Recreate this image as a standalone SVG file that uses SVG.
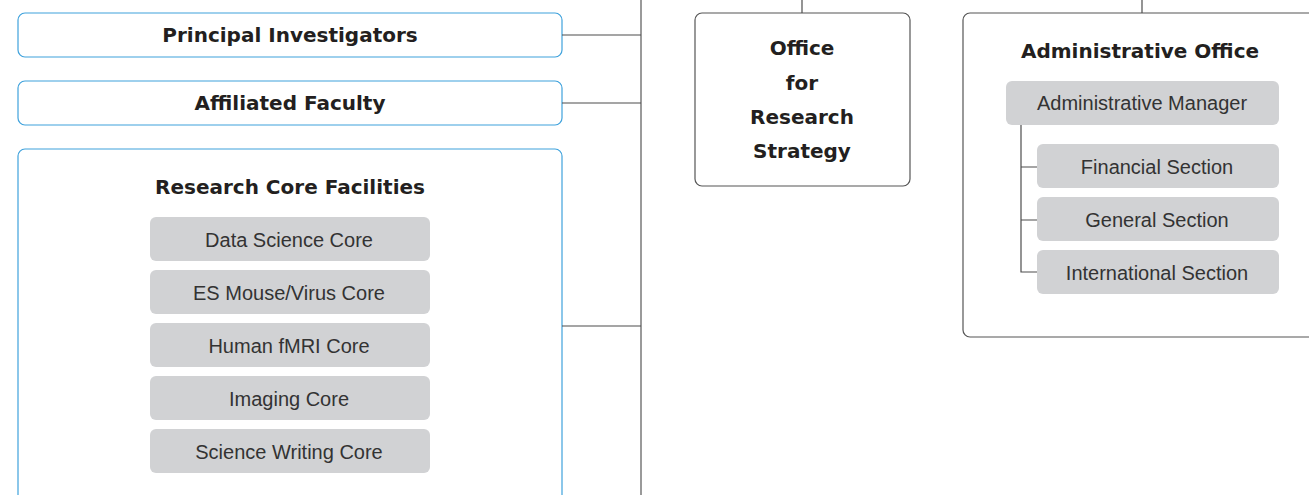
<svg xmlns="http://www.w3.org/2000/svg" width="1309" height="495" viewBox="0 0 1309 495">
  <style>
    .blue { fill: #ffffff; stroke: #3fa2dc; stroke-width: 1.2; }
    .dark { fill: #ffffff; stroke: #555555; stroke-width: 1.2; }
    .unit { fill: #d1d2d4; }
    .head { font-family: "DejaVu Sans", "Liberation Sans", sans-serif; font-weight: bold; font-size: 20px; fill: #231f20; text-anchor: middle; dominant-baseline: central; }
    .item { font-family: "Liberation Sans", Arial, sans-serif; font-size: 20px; fill: #333333; text-anchor: middle; dominant-baseline: central; }
    .link { stroke: #4d4d4d; stroke-width: 1.2; fill: none; }
    .trunk { stroke: #9a9a9a; stroke-width: 2; fill: none; }
  </style>
  <rect width="1309" height="495" fill="#ffffff"/>

  <g id="principal-investigators">
    <rect class="blue" x="18" y="13" width="544" height="44" rx="7"/>
    <text class="head" x="290" y="35">Principal Investigators</text>
  </g>

  <g id="affiliated-faculty">
    <rect class="blue" x="18" y="81" width="544" height="44" rx="7"/>
    <text class="head" x="290" y="103">Affiliated Faculty</text>
  </g>

  <g id="research-core-facilities">
    <rect class="blue" x="18" y="149" width="544" height="360" rx="7"/>
    <text class="head" x="290" y="187">Research Core Facilities</text>
    <g id="data-science-core">
      <rect class="unit" x="150" y="217" width="280" height="44" rx="6"/>
      <text class="item" x="289" y="240">Data Science Core</text>
    </g>
    <g id="es-mouse-virus-core">
      <rect class="unit" x="150" y="270" width="280" height="44" rx="6"/>
      <text class="item" x="289" y="293">ES Mouse/Virus Core</text>
    </g>
    <g id="human-fmri-core">
      <rect class="unit" x="150" y="323" width="280" height="44" rx="6"/>
      <text class="item" x="289" y="346">Human fMRI Core</text>
    </g>
    <g id="imaging-core">
      <rect class="unit" x="150" y="376" width="280" height="44" rx="6"/>
      <text class="item" x="289" y="399">Imaging Core</text>
    </g>
    <g id="science-writing-core">
      <rect class="unit" x="150" y="429" width="280" height="44" rx="6"/>
      <text class="item" x="289" y="452">Science Writing Core</text>
    </g>
  </g>

  <g id="office-for-research-strategy">
    <rect class="dark" x="695" y="13" width="215" height="173" rx="7"/>
    <text class="head" x="802" y="48">Office</text>
    <text class="head" x="802" y="83">for</text>
    <text class="head" x="802" y="117">Research</text>
    <text class="head" x="802" y="151">Strategy</text>
  </g>

  <g id="administrative-office">
    <rect class="dark" x="963" y="13" width="360" height="324" rx="7"/>
    <text class="head" x="1140" y="51">Administrative Office</text>
    <g id="administrative-manager">
      <rect class="unit" x="1006" y="81" width="273" height="44" rx="6"/>
      <text class="item" x="1142" y="103">Administrative Manager</text>
    </g>
    <g id="financial-section">
      <rect class="unit" x="1037" y="144" width="242" height="44" rx="6"/>
      <text class="item" x="1157" y="167">Financial Section</text>
    </g>
    <g id="general-section">
      <rect class="unit" x="1037" y="197" width="242" height="44" rx="6"/>
      <text class="item" x="1157" y="220">General Section</text>
    </g>
    <g id="international-section">
      <rect class="unit" x="1037" y="250" width="242" height="44" rx="6"/>
      <text class="item" x="1157" y="273">International Section</text>
    </g>
  </g>

  <!-- connectors drawn last so box fills do not hide them -->
  <g id="connectors">
    <line class="trunk" x1="641" y1="0" x2="641" y2="495"/>
    <line class="link" x1="562" y1="35" x2="641" y2="35"/>
    <line class="link" x1="562" y1="103" x2="641" y2="103"/>
    <line class="link" x1="562" y1="326" x2="641" y2="326"/>
    <line class="link" x1="802" y1="0" x2="802" y2="13"/>
    <line class="link" x1="1142" y1="0" x2="1142" y2="13"/>
    <path class="link" d="M1021 125 V272 H1037 M1021 167 H1037 M1021 220 H1037"/>
  </g>
</svg>
